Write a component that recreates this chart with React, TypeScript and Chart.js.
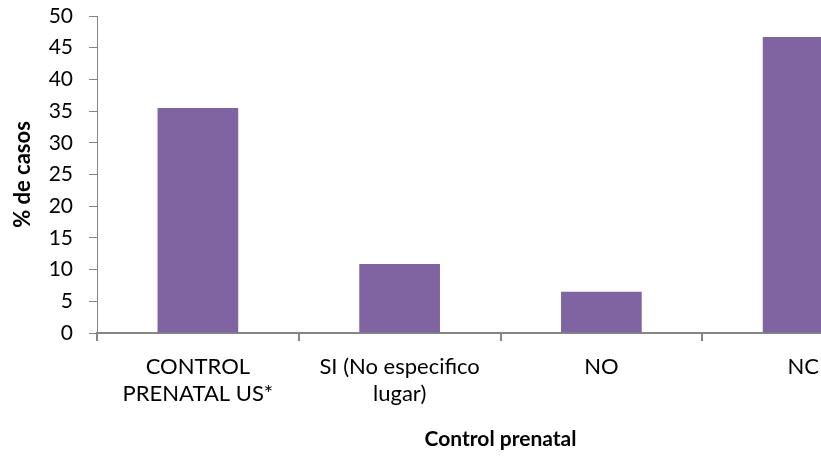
import React, { useEffect, useRef } from "react";
import { Chart, registerables } from "chart.js";

Chart.register(...registerables);

// Categories (multi-line tick labels)
const categories: string[][] = [
  ["CONTROL", "PRENATAL US*"],
  ["SI (No especifico", "lugar)"],
  ["NO"],
  ["NC"],
];

// Percentage of cases per category
const percentCases: number[] = [35.5, 10.9, 6.5, 46.7];

const yTicks = { min: 0, max: 50, step: 5 };

const BAR_COLOR = "#8064A2";
const AXIS_COLOR = "#868686";
const FONT = "Lato, 'Open Sans', sans-serif";

export default function App() {
  const canvasRef = useRef<HTMLCanvasElement | null>(null);

  useEffect(() => {
    const canvas = canvasRef.current;
    if (!canvas) return;
    const chart = new Chart(canvas, {
      type: "bar",
      data: {
        labels: categories,
        datasets: [
          {
            label: "% de casos",
            data: percentCases,
            backgroundColor: BAR_COLOR,
            borderWidth: 0,
            categoryPercentage: 1,
            barPercentage: 0.4,
          },
        ],
      },
      options: {
        responsive: false,
        animation: false,
        layout: { padding: { top: 0, left: 10, right: 0, bottom: 4 } },
        plugins: {
          legend: { display: false },
          tooltip: { enabled: false },
        },
        scales: {
          x: {
            grid: {
              display: true,
              drawOnChartArea: false,
              drawTicks: true,
              tickLength: 8,
              color: AXIS_COLOR,
              lineWidth: 2,
              offset: true,
            },
            border: { display: true, color: AXIS_COLOR, width: 2 },
            ticks: {
              color: "#000",
              font: { family: FONT, size: 22, lineHeight: 1.23 },
              padding: 12,
              maxRotation: 0,
              autoSkip: false,
            },
            title: {
              display: true,
              text: "Control prenatal",
              color: "#000",
              font: { family: FONT, size: 21, weight: "bold" },
              padding: { top: 6, bottom: 0 },
            },
            afterFit: (scale: any) => {
              scale.height = 119;
            },
          },
          y: {
            min: yTicks.min,
            max: yTicks.max,
            grid: {
              display: true,
              drawOnChartArea: false,
              drawTicks: true,
              tickLength: 8,
              color: AXIS_COLOR,
              lineWidth: 1,
            },
            border: { display: true, color: AXIS_COLOR, width: 1 },
            ticks: {
              stepSize: yTicks.step,
              color: "#000",
              font: { family: FONT, size: 21 },
              padding: 16,
            },
            title: {
              display: true,
              text: "% de casos",
              color: "#000",
              font: { family: FONT, size: 22, weight: "bold" },
              padding: { top: 0, bottom: 2 },
            },
            afterFit: (scale: any) => {
              scale.width = 87;
              scale.paddingTop = 16;
            },
          },
        },
      },
    });
    return () => chart.destroy();
  }, []);

  return (
    <div
      style={{
        position: "fixed",
        left: 0,
        top: 0,
        width: 821,
        height: 456,
        overflow: "hidden",
        background: "#fff",
      }}
    >
      <canvas ref={canvasRef} width={904} height={456} style={{ display: "block" }} />
    </div>
  );
}
